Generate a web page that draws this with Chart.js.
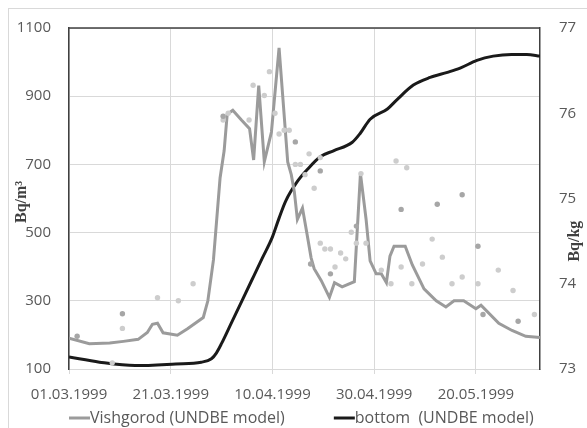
<!DOCTYPE html>
<html>
<head>
<meta charset="utf-8">
<script src="https://cdn.jsdelivr.net/npm/chart.js@4.4.1/dist/chart.umd.min.js"></script>
<style>
  html, body { margin: 0; padding: 0; background: #fff; }
</style>
</head>
<body>
<canvas id="chart" width="587" height="428"></canvas>
<script>
// x positions are days counted from 01.03.1999
const START = Date.UTC(1999, 2, 1);
const xTickLabels = ['01.03.1999', '21.03.1999', '10.04.1999', '30.04.1999', '20.05.1999'];
const xMaxDay = 92.6;
const seriesNames = ['Vishgorod (UNDBE model)', 'bottom  (UNDBE model)'];
const leftTitle = 'Bq/m\u00B3';
const rightTitle = 'Bq/kg';

// Vishgorod model, Bq/m3 (left axis)
const vishDays = [0, 4, 8, 10.7, 13.6, 15.4, 16.4, 17.4, 18.5, 21.3, 23.3, 26.4, 27.3, 28.4, 29.7, 30.5, 31.1,
  32.2, 33.9, 35.5, 36.3, 37.3, 38.4, 39.8, 41.3, 43, 43.7, 44.3, 44.9, 45.9, 46.7, 47.6, 48.2, 49.6,
  51.2, 52.2, 53.7, 56.1, 57.3, 58.4, 59.2, 60.4, 61.4, 62.4, 63.1, 63.9, 66.1, 67.5, 69.8, 72.2,
  74.1, 75.7, 77.6, 80, 81, 84.5, 87.1, 89.8, 92.6];
const vishValues = [190, 174, 176, 181, 187, 207, 231, 234, 206, 199, 218, 251, 300, 420, 660, 740, 847,
  859, 830, 805, 713, 931, 708, 795, 1042, 707, 670, 620, 539, 572, 504, 426, 394, 359,
  310, 353, 341, 356, 673, 540, 417, 379, 379, 353, 431, 460, 460, 405, 335, 300,
  282, 300, 300, 277, 287, 234, 213, 196, 192];

// bottom model, Bq/kg (right axis)
const bottomDays = [0, 6, 13, 21, 26, 28, 29, 30, 32, 34, 36, 38, 40, 41.3, 42.6, 44.9, 47,
  49.4, 52, 55.7, 57.2, 59.2, 62.6, 64.5, 67.7, 71, 74.4, 76.9, 80.2, 83.4, 87, 90, 92.6];
const bottomValues = [73.14, 73.08, 73.04, 73.06, 73.08, 73.12, 73.19, 73.3, 73.55, 73.8, 74.05,
  74.3, 74.55, 74.77, 74.97, 75.2, 75.35, 75.49, 75.56, 75.66, 75.76, 75.93, 76.05, 76.16, 76.33,
  76.42, 76.48, 76.53, 76.62, 76.67, 76.69, 76.69, 76.67];

// measurements, light grey dots
const lightDays = [8.5, 10.5, 17.4, 21.5, 24.4, 30.3, 31.3, 35.4, 36.2, 38.4, 39.4, 40.5, 41.3, 42.3, 43.3,
  44.5, 45.5, 46.4, 47.2, 48.2, 49.4, 49.4, 50.3, 51.4, 52.3, 53.4, 54.4, 55.5, 56.5, 57.4, 58.4,
  61.4, 63.3, 64.3, 65.3, 66.4, 67.4, 69.5, 71.4, 73.4, 75.3, 77.3, 80.4, 84.4, 87.3, 91.5];
const lightValues = [118, 219, 309, 300, 350, 830, 850, 830, 932, 902, 972, 850, 789, 800, 800,
  700, 700, 670, 731, 630, 720, 469, 452, 452, 399, 440, 423, 501, 469, 673, 469,
  390, 350, 710, 399, 690, 350, 408, 481, 428, 350, 370, 350, 390, 330, 260];

// measurements, darker grey dots
const darkDays = [1.6, 10.5, 30.3, 44.5, 47.5, 49.4, 51.4, 56.5, 65.3, 72.4, 77.3, 80.4, 81.4, 88.3];
const darkValues = [196, 262, 841, 766, 408, 681, 379, 519, 568, 583, 611, 460, 260, 240];

const pad2 = n => String(n).padStart(2, '0');

function labelToDay(s) {
  const [d, m, y] = s.split('.').map(Number);
  return (Date.UTC(y, m - 1, d) - START) / 86400000;
}

function dayToLabel(v) {
  const dt = new Date(START + Math.round(v) * 86400000);
  return pad2(dt.getUTCDate()) + '.' + pad2(dt.getUTCMonth() + 1) + '.' + dt.getUTCFullYear();
}

const toPoints = (xs, ys) => xs.map((x, i) => ({ x: x, y: ys[i] }));

const TEXT = '#595959';
const GRID = '#d9d9d9';
const AXIS = '#404040';
const FONT = '"Open Sans", sans-serif';

const framePlugin = {
  id: 'frame',
  beforeDraw(chart) {
    const { ctx } = chart;
    ctx.save();
    ctx.fillStyle = '#fff';
    ctx.fillRect(0, 0, chart.width, chart.height);
    ctx.strokeStyle = GRID;
    ctx.lineWidth = 1;
    ctx.strokeRect(8.5, 8.5, chart.width, chart.height);
    ctx.restore();
  },
  beforeDatasetsDraw(chart) {
    const { ctx, chartArea } = chart;
    ctx.save();
    ctx.strokeStyle = AXIS;
    ctx.lineWidth = 1.5;
    ctx.beginPath();
    ctx.moveTo(chartArea.left, chartArea.top);
    ctx.lineTo(chartArea.right, chartArea.top);
    ctx.stroke();
    ctx.restore();
  }
};

const titlesPlugin = {
  id: 'axisTitles',
  afterDraw(chart) {
    const { ctx, chartArea } = chart;
    const h = chartArea.bottom - chartArea.top;
    const put = (text, x, y) => {
      ctx.save();
      ctx.translate(x, y);
      ctx.rotate(-Math.PI / 2);
      ctx.font = 'bold 16px "Liberation Serif", serif';
      ctx.fillStyle = AXIS;
      ctx.textAlign = 'center';
      ctx.textBaseline = 'middle';
      ctx.fillText(text, 0, 0);
      ctx.restore();
    };
    put(leftTitle, chartArea.left - 47, chartArea.top + h * 0.51);
    put(rightTitle, chartArea.right + 35, chartArea.top + h * 0.625);
  }
};

const legendPlugin = {
  id: 'bottomLegend',
  afterDraw(chart) {
    const { ctx, chartArea } = chart;
    const y = 418;
    let x = chartArea.left;
    ctx.save();
    ctx.font = '16px ' + FONT;
    ctx.textBaseline = 'middle';
    chart.data.datasets.forEach(ds => {
      if (!ds.inLegend) return;
      ctx.strokeStyle = ds.borderColor;
      ctx.lineWidth = 3;
      ctx.beginPath();
      ctx.moveTo(x, y);
      ctx.lineTo(x + 21, y);
      ctx.stroke();
      x += 21;
      ctx.fillStyle = TEXT;
      ctx.fillText(ds.label, x, y);
      x += ctx.measureText(ds.label).width + 49;
    });
    ctx.restore();
  }
};

new Chart(document.getElementById('chart'), {
  type: 'line',
  data: {
    datasets: [
      {
        type: 'scatter',
        label: 'measured (dark)',
        data: toPoints(darkDays, darkValues),
        yAxisID: 'y',
        backgroundColor: '#a6a6a6',
        borderWidth: 0,
        pointRadius: 2.7
      },
      {
        type: 'scatter',
        label: 'measured (light)',
        data: toPoints(lightDays, lightValues),
        yAxisID: 'y',
        backgroundColor: '#cdcdcd',
        borderWidth: 0,
        pointRadius: 2.7
      },
      {
        label: seriesNames[0],
        inLegend: true,
        data: toPoints(vishDays, vishValues),
        yAxisID: 'y',
        borderColor: '#9b9b9b',
        borderWidth: 3,
        pointRadius: 0,
        tension: 0,
        fill: false
      },
      {
        label: seriesNames[1],
        inLegend: true,
        data: toPoints(bottomDays, bottomValues),
        yAxisID: 'y2',
        borderColor: '#1a1a1a',
        borderWidth: 3,
        pointRadius: 0,
        cubicInterpolationMode: 'monotone',
        fill: false
      }
    ]
  },
  options: {
    responsive: false,
    animation: false,
    layout: { padding: { top: 25, left: 0, right: 0, bottom: 24 } },
    scales: {
      x: {
        type: 'linear',
        min: 0,
        max: xMaxDay,
        afterBuildTicks(scale) {
          scale.ticks = xTickLabels.map(s => ({ value: labelToDay(s) }));
        },
        afterFit(scale) { scale.height = 35; },
        grid: { color: GRID, tickLength: 5, tickColor: GRID },
        border: { color: GRID },
        ticks: {
          color: TEXT,
          font: { family: FONT, size: 15 },
          padding: 12,
          maxRotation: 0,
          autoSkip: false,
          callback: v => dayToLabel(v)
        }
      },
      y: {
        position: 'left',
        min: 100,
        max: 1100,
        afterFit(scale) { scale.width = 69; },
        grid: { color: GRID, drawTicks: false },
        border: { color: AXIS, width: 1.5 },
        ticks: {
          stepSize: 200,
          color: TEXT,
          font: { family: FONT, size: 15 },
          padding: 18,
          callback: v => String(v)
        }
      },
      y2: {
        position: 'right',
        min: 73,
        max: 77,
        afterFit(scale) { scale.width = 47; },
        grid: { display: false, drawTicks: false },
        border: { color: AXIS, width: 1.5 },
        ticks: {
          stepSize: 1,
          color: TEXT,
          font: { family: FONT, size: 15 },
          padding: 19,
          callback: v => String(v)
        }
      }
    },
    plugins: {
      legend: { display: false },
      tooltip: { enabled: false }
    }
  },
  plugins: [framePlugin, titlesPlugin, legendPlugin]
});
</script>
</body>
</html>
